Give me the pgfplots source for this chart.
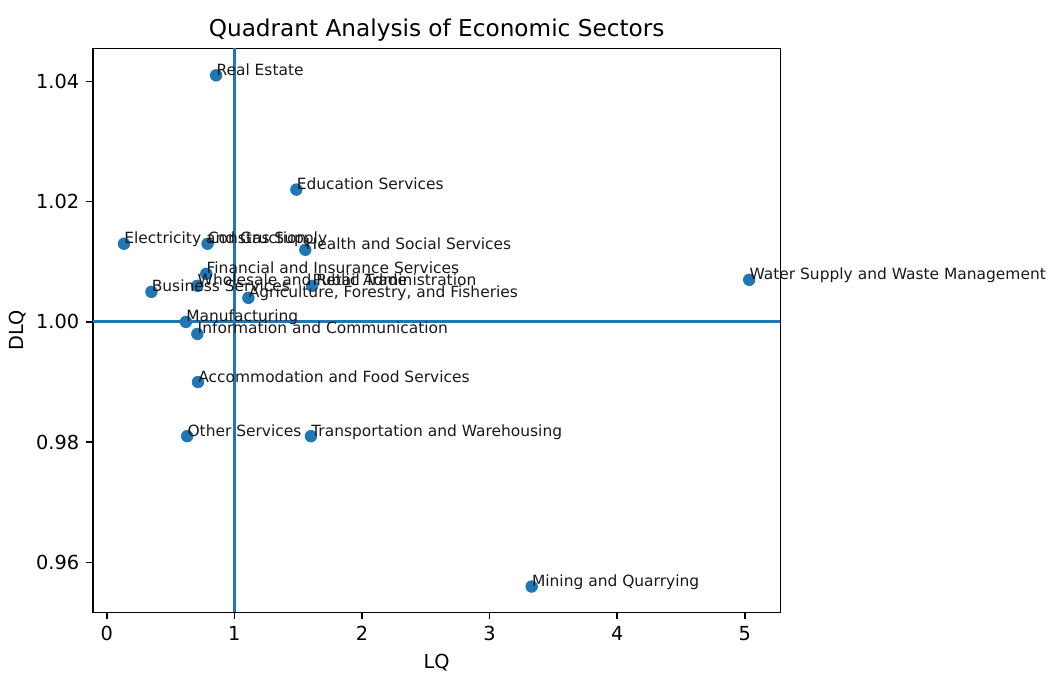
\documentclass[border=0pt]{standalone}
\usepackage{pgfplots}
\usepackage{pgfplotstable}
\pgfplotsset{compat=1.18}
\usepackage{fontspec}
\setmainfont{DejaVu Sans}
\definecolor{mplblue}{HTML}{1F77B4}
\pgfplotstableread[col sep=semicolon]{
x;y;label
0.857;1.041;Real Estate
1.486;1.022;Education Services
0.135;1.013;Electricity and Gas Supply
0.79;1.013;Construction
1.556;1.012;Health and Social Services
0.78;1.008;Financial and Insurance Services
0.71;1.006;Wholesale and Retail Trade
1.61;1.006;Public Administration
0.35;1.005;Business Services
1.11;1.004;Agriculture, Forestry, and Fisheries
0.62;1.000;Manufacturing
0.71;0.998;Information and Communication
0.715;0.990;Accommodation and Food Services
0.63;0.981;Other Services
1.6;0.981;Transportation and Warehousing
3.33;0.956;Mining and Quarrying
5.035;1.007;Water Supply and Waste Management
}\sectors
\begin{document}
\begin{tikzpicture}
\begin{axis}[
  scale only axis,
  width=356pt, height=292pt,
  xmin=-0.11, xmax=5.28,
  ymin=0.9517, ymax=1.0455,
  xtick={0,1,2,3,4,5},
  ytick={0.96,0.98,1.00,1.02,1.04},
  yticklabel style={/pgf/number format/.cd,fixed,fixed zerofill,precision=2},
  /pgf/number format/assume math mode=true,
  tick align=outside,
  xtick pos=bottom, ytick pos=left,
  major tick length=3.5pt,
  tick style={black, line width=0.8pt},
  axis line style={line width=0.8pt},
  ticklabel style={font=\fontsize{10}{12}\selectfont},
  xlabel={LQ}, ylabel={DLQ},
  label style={font=\fontsize{10}{12}\selectfont},
  ylabel style={xshift=0pt, yshift=-1.5pt},
  title={Quadrant Analysis of Economic Sectors},
  title style={font=\fontsize{12}{14}\selectfont, at={(0.5,1)}, anchor=base},
  clip=false,
]
\addplot[only marks, mark=*, mark size=3pt, mplblue, mark options={draw=none, fill=mplblue}]
  table[x=x, y=y] {\sectors};
\addplot[mplblue, line width=1.5pt] coordinates {(-0.11,1.0) (5.28,1.0)};
\addplot[mplblue, line width=1.5pt] coordinates {(1,0.9517) (1,1.0455)};
\addplot[draw=none, no marks, nodes near coords, point meta=explicit symbolic,
  every node near coord/.style={anchor=base west, inner sep=0pt, text=black!90,
    font=\fontsize{8}{9.6}\selectfont}]
  table[x=x, y=y, meta=label] {\sectors};
\end{axis}
\pgfresetboundingbox
\path ([shift={(-48pt,-34pt)}]current axis.south west) rectangle ([shift={(139pt,25pt)}]current axis.north east);
\end{tikzpicture}
\end{document}
